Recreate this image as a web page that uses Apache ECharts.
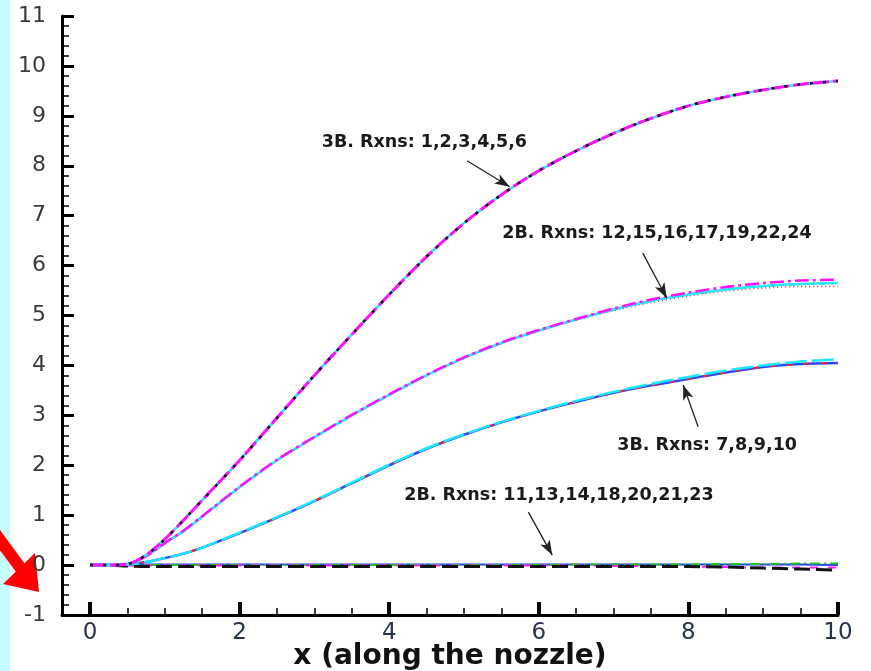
<!DOCTYPE html>
<html>
<head>
<meta charset="utf-8">
<script src="https://cdn.jsdelivr.net/npm/echarts@6/dist/echarts.min.js"></script>
<style>
  html, body { margin: 0; padding: 0; background: #fff; }
  #chart { width: 871px; height: 671px; }
</style>
</head>
<body>
<div id="chart"></div>
<script>
// x positions along the nozzle
var xVals = [0, 0.25, 0.5, 0.75, 1, 1.25, 1.5, 2, 2.5, 3, 3.5, 4, 4.5, 5, 5.5, 6, 6.5, 7, 7.5, 8, 8.5, 9, 9.5, 10];

// 3B. Rxns: 1,2,3,4,5,6
var top3B = [0, 0, 0.02, 0.2, 0.52, 0.9, 1.3, 2.1, 2.95, 3.8, 4.62, 5.42, 6.18, 6.85, 7.42, 7.9, 8.3, 8.65, 8.95, 9.2, 9.38, 9.52, 9.63, 9.7];

// 2B. Rxns: 12,15,16,17,19,22,24
var mid2B = [0, 0, 0.02, 0.18, 0.44, 0.68, 0.97, 1.56, 2.1, 2.56, 3.0, 3.41, 3.8, 4.15, 4.45, 4.7, 4.92, 5.12, 5.29, 5.42, 5.52, 5.59, 5.63, 5.65];
var mid2BHigh = [0, 0, 0.02, 0.18, 0.44, 0.69, 0.98, 1.57, 2.11, 2.57, 3.01, 3.42, 3.81, 4.16, 4.46, 4.71, 4.93, 5.14, 5.32, 5.46, 5.57, 5.65, 5.7, 5.72];
var mid2BLow = [0, 0, 0.02, 0.18, 0.43, 0.67, 0.96, 1.55, 2.09, 2.55, 2.99, 3.4, 3.79, 4.14, 4.44, 4.69, 4.91, 5.1, 5.26, 5.39, 5.49, 5.55, 5.58, 5.58];

// 3B. Rxns: 7,8,9,10
var low3B = [0, 0, 0.01, 0.06, 0.14, 0.23, 0.35, 0.64, 0.95, 1.28, 1.64, 2.0, 2.33, 2.61, 2.86, 3.08, 3.27, 3.45, 3.6, 3.73, 3.86, 3.97, 4.03, 4.05];
var low3BHigh = [0, 0, 0.01, 0.06, 0.14, 0.23, 0.35, 0.65, 0.96, 1.29, 1.65, 2.01, 2.34, 2.62, 2.87, 3.09, 3.29, 3.47, 3.63, 3.77, 3.9, 4.0, 4.08, 4.12];

// 2B. Rxns: 11,13,14,18,20,21,23
var bot2BBlack = [0, 0, -0.02, -0.03, -0.03, -0.03, -0.03, -0.03, -0.03, -0.03, -0.03, -0.03, -0.03, -0.03, -0.03, -0.03, -0.03, -0.03, -0.03, -0.03, -0.04, -0.06, -0.08, -0.1];
var bot2BBlue = [0, 0, 0.01, 0.01, 0.01, 0.01, 0.01, 0.01, 0.01, 0.01, 0.01, 0.01, 0.01, 0.01, 0.01, 0.01, 0.01, 0.01, 0.01, 0.01, 0.01, 0.01, 0.01, 0.0];
var bot2BGreen = [0, 0, 0, 0, 0, 0, 0, 0, 0, 0, 0, 0, 0, 0, 0, 0, 0.01, 0.01, 0.01, 0.01, 0.02, 0.02, 0.03, 0.03];
var bot2BMagenta = [0, 0, -0.01, -0.01, -0.01, -0.01, -0.01, -0.01, -0.01, -0.01, -0.01, -0.01, -0.01, -0.01, -0.01, -0.01, -0.01, -0.02, -0.02, -0.03, -0.04, -0.05, -0.05, -0.05];

// axis ticks
var xMajor = [0, 2, 4, 6, 8, 10];
var xMinor = [0.5, 1, 1.5, 2.5, 3, 3.5, 4.5, 5, 5.5, 6.5, 7, 7.5, 8.5, 9, 9.5];
var yMinor = [-0.8, -0.6, -0.4, -0.2, 0.2, 0.4, 0.6, 0.8, 1.2, 1.4, 1.6, 1.8, 2.2, 2.4, 2.6, 2.8,
  3.2, 3.4, 3.6, 3.8, 4.2, 4.4, 4.6, 4.8, 5.2, 5.4, 5.6, 5.8, 6.2, 6.4, 6.6, 6.8,
  7.2, 7.4, 7.6, 7.8, 8.2, 8.4, 8.6, 8.8, 9.2, 9.4, 9.6, 9.8, 10.2, 10.4, 10.6, 10.8];

// annotations [text, x, y] and arrows [x1, y1, x2, y2]
var noteTexts = [
  ['3B. Rxns: 1,2,3,4,5,6', 4.47, 8.46],
  ['2B. Rxns: 12,15,16,17,19,22,24', 7.58, 6.65],
  ['3B. Rxns: 7,8,9,10', 8.25, 2.4],
  ['2B. Rxns: 11,13,14,18,20,21,23', 6.27, 1.4]
];
var noteArrows = [
  [5.04, 8.1, 5.61, 7.58],
  [7.39, 6.25, 7.71, 5.35],
  [8.13, 2.77, 7.93, 3.61],
  [5.86, 1.06, 6.18, 0.2]
];

var FONT = 'DejaVu Sans, Liberation Sans, sans-serif';
var GRID = { left: 62, right: 33, top: 16, bottom: 56, outerBoundsMode: 'none', containLabel: false };

function pairs(ys) {
  return xVals.map(function (x, i) { return [x, ys[i]]; });
}

function line(ys, color, type, width) {
  return {
    type: 'line',
    data: pairs(ys),
    smooth: 0.3,
    showSymbol: false,
    silent: true,
    lineStyle: { color: color, type: type, width: width || 2 }
  };
}

var chart = echarts.init(document.getElementById('chart'));

var series = [
  // bottom group
  line(bot2BBlue, '#2a3cff', 'solid', 2),
  line(bot2BGreen, '#1fc21f', [10, 4, 2, 4], 2),
  line(bot2BMagenta, '#ff20ff', [8, 10], 2),
  line(bot2BBlack, '#111111', [16, 6], 3),
  // 3B 7-10
  line(low3B, '#3344ff', 'solid', 2.5),
  line(low3B, '#ff2020', [5, 12], 2),
  line(low3BHigh, '#18e8ff', [22, 5], 2.5),
  // 2B 12...
  line(mid2BLow, '#e02020', [1, 3], 1.5),
  line(mid2B, '#222222', [4, 6], 2),
  line(mid2B, '#22eaff', 'solid', 2.5),
  line(mid2BHigh, '#ff10ff', [14, 4, 3, 4], 2.5),
  // 3B 1-6
  line(top3B, '#22eaff', 'solid', 2.5),
  line(top3B, '#ff10ff', [16, 4], 3),
  line(top3B, '#111111', [3, 10], 2.5)
];

// annotations on an empty helper series
series.push({
  type: 'line',
  data: [],
  silent: true,
  markLine: {
    silent: true,
    symbol: ['none', 'arrow'],
    symbolSize: [8, 15],
    lineStyle: { color: '#222', type: 'solid', width: 1.3 },
    label: { show: false },
    data: noteArrows.map(function (a) {
      return [{ coord: [a[0], a[1]] }, { coord: [a[2], a[3]] }];
    })
  },
  markPoint: {
    silent: true,
    symbol: 'circle',
    symbolSize: 0,
    label: {
      show: true,
      position: 'inside',
      color: '#1a1a1a',
      fontFamily: FONT,
      fontWeight: 'bold',
      fontSize: 17.5
    },
    data: noteTexts.map(function (t) {
      return { coord: [t[1], t[2]], value: t[0], label: { formatter: t[0] } };
    })
  }
});

chart.setOption({
  animation: false,
  backgroundColor: '#ffffff',
  // second grid sits exactly on the first one and only carries the minor ticks
  grid: [GRID, GRID],
  xAxis: [{
    type: 'value',
    gridIndex: 0,
    min: -0.375,
    max: 10,
    name: 'x (along the nozzle)',
    nameLocation: 'middle',
    nameGap: 28,
    nameMoveOverlap: false,
    nameTextStyle: { fontSize: 28, fontWeight: 'bold', color: '#111', fontFamily: FONT },
    splitLine: { show: false },
    axisLine: { show: true, onZero: false, lineStyle: { color: '#000', width: 3 } },
    axisTick: { show: true, inside: true, length: 13, customValues: xMajor, lineStyle: { color: '#000', width: 4 } },
    axisLabel: { customValues: xMajor, margin: 7, fontSize: 23, color: '#26324e', fontFamily: FONT }
  }, {
    type: 'value',
    gridIndex: 1,
    min: -0.375,
    max: 10,
    position: 'bottom',
    splitLine: { show: false },
    axisLine: { show: false, onZero: false },
    axisTick: { show: true, inside: true, length: 7, customValues: xMinor, lineStyle: { color: '#000', width: 1.5 } },
    axisLabel: { show: false }
  }],
  yAxis: [{
    type: 'value',
    gridIndex: 0,
    min: -1,
    max: 11,
    interval: 1,
    splitLine: { show: false },
    axisLine: { show: true, onZero: false, lineStyle: { color: '#000', width: 3 } },
    axisTick: { show: true, inside: true, length: 12, lineStyle: { color: '#000', width: 3 } },
    axisLabel: { margin: 16, fontSize: 22, color: '#3a3a3a', fontFamily: FONT }
  }, {
    type: 'value',
    gridIndex: 1,
    min: -1,
    max: 11,
    position: 'left',
    splitLine: { show: false },
    axisLine: { show: false, onZero: false },
    axisTick: { show: true, inside: true, length: 7, customValues: yMinor, lineStyle: { color: '#000', width: 1.5 } },
    axisLabel: { show: false }
  }],
  graphic: [
    { type: 'rect', left: 0, top: 0, shape: { width: 10, height: 671 }, style: { fill: '#c6fbfd' }, z: -1 },
    { type: 'line', shape: { x1: -6, y1: 532, x2: 22, y2: 570 }, style: { stroke: '#ff0000', lineWidth: 12 } },
    { type: 'polygon', shape: { points: [[39, 592], [35, 553], [3, 584]] }, style: { fill: '#ff0000' } }
  ],
  series: series
});
</script>
</body>
</html>
